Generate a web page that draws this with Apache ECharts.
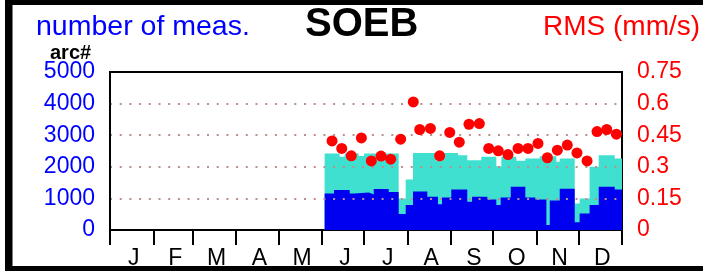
<!DOCTYPE html>
<html><head><meta charset="utf-8">
<script src="https://cdn.jsdelivr.net/npm/echarts@6/dist/echarts.min.js"></script>
<style>html,body{margin:0;padding:0;background:#fff;overflow:hidden}#c{width:703px;height:271px}</style>
</head><body><div id="c"></div>
<script>
// ---- data ----
const monthLabels = ['J','F','M','A','M','J','J','A','S','O','N','D'];
const monthStartDays = [0,31,59,90,120,151,181,212,243,273,304,334,365];
const leftTicks = [0,1000,2000,3000,4000,5000];
const rightTicks = [0,0.15,0.3,0.45,0.6,0.75];

// total number of measurements (turquoise), step starts in day-of-year
const totalStartDays = [153.0,163.7,167.3,177.3,181.1,205.8,210.8,216.0,232.5,237.0,248.1,254.7,264.7,275.4,279.0,289.7,296.1,306.3,318.2,320.6,331.3,334.8,341.9,348.4,359.8];
const totalCounts    = [2420, 2316, 2420, 2340, 2420, 1000, 1600, 2440, 2190, 2440, 2368, 2211, 2316, 2021, 2316, 2190, 2263, 2337, 2158, 2263,  842, 1000, 2000, 2368, 2263];

// arc measurements (blue)
const arcStartDays = [153.0,159.7,170.9,174.0,184.6,188.0,198.7,205.8,210.8,216.0,226.2,233.8,236.7,243.3,254.7,258.1,269.0,275.4,278.5,285.7,296.1,303.2,311.1,313.5,320.6,331.3,334.8,341.9,348.4,359.8];
const arcCounts    = [1158, 1263, 1158, 1189, 1126, 1295, 1200,  505,  790, 1221, 1053,  811, 1032, 1284,  895, 1053,  968,  790, 1032, 1368, 1032,  968,  158,  937, 1305,  242,  526,  790, 1368, 1284];

// RMS (mm/s), red dots
const rmsDays   = [158.3,165.2,172.0,179.2,186.3,193.2,200.1,207.2,216.2,220.8,228.4,235.0,242.2,249.0,255.9,263.3,270.0,276.8,283.7,290.9,298.0,305.1,311.8,318.9,326.0,332.9,340.1,347.2,354.1,361.0];
const rmsValues = [0.423,0.387,0.352,0.437,0.328,0.351,0.336,0.431,0.608,0.477,0.482,0.352,0.463,0.417,0.502,0.505,0.387,0.376,0.358,0.387,0.387,0.411,0.343,0.379,0.403,0.366,0.328,0.467,0.477,0.455];

const yearEnd = 365;

// ---- build ----
function stepData(days, vals){
  const d = days.map((x,i)=>[x, vals[i]]);
  d.push([yearEnd, vals[vals.length-1]]);
  return d;
}
const monthLabelDays = monthLabels.map((m,i)=> (monthStartDays[i]+monthStartDays[i+1])/2 + 1.5);
const FONT = 'Liberation Sans, Arial, Helvetica, sans-serif';

const chart = echarts.init(document.getElementById('c'), null, {renderer:'canvas'});
chart.setOption({
  animation:false,
  backgroundColor:'#fff',
  grid:{left:110, right:81, top:72, bottom:41, show:true, borderColor:'#000', borderWidth:2, containLabel:false},
  xAxis:{
    type:'value', min:0, max:yearEnd,
    axisLine:{show:true, lineStyle:{color:'#000', width:2}},
    axisTick:{show:true, customValues:monthStartDays, length:15, lineStyle:{color:'#000', width:2}},
    axisLabel:{show:true, customValues:monthLabelDays, color:'#000', fontSize:23, fontFamily:FONT, margin:17,
      formatter:(v)=>{ for(let i=0;i<monthLabelDays.length;i++){ if(Math.abs(monthLabelDays[i]-v)<0.5) return monthLabels[i]; } return ''; }},
    splitLine:{show:false}
  },
  yAxis:[
    {type:'value', min:leftTicks[0], max:leftTicks[leftTicks.length-1], interval:1000, position:'left', z:4,
     axisLine:{show:true, lineStyle:{color:'#000', width:2}},
     axisTick:{show:false},
     axisLabel:{color:'#0000ff', fontSize:23, fontFamily:FONT, margin:15, formatter:(v)=>String(v)},
     splitLine:{show:true, showMinLine:false, showMaxLine:false, lineStyle:{color:'#bc8f8f', width:2, type:[2,7.7]}}},
    {type:'value', min:rightTicks[0], max:rightTicks[rightTicks.length-1], interval:0.15, position:'right',
     axisLine:{show:true, lineStyle:{color:'#000', width:2}},
     axisTick:{show:false},
     axisLabel:{color:'#ff0000', fontSize:23, fontFamily:FONT, margin:15, formatter:(v)=>String(+v.toFixed(2))},
     splitLine:{show:false}}
  ],
  series:[
    {type:'line', name:'total', step:'end', data:stepData(totalStartDays,totalCounts), symbol:'none', z:1,
     lineStyle:{width:0, color:'#40e0d0'}, areaStyle:{color:'#40e0d0', opacity:1}},
    {type:'line', name:'arc', step:'end', data:stepData(arcStartDays,arcCounts), symbol:'none', z:1,
     lineStyle:{width:0, color:'#0000f0'}, areaStyle:{color:'#0000f0', opacity:1}},
    {type:'scatter', name:'rms', yAxisIndex:1, data:rmsDays.map((d,i)=>[d,rmsValues[i]]), symbol:'circle', symbolSize:11, z:6,
     itemStyle:{color:'#ff0000', opacity:1}}
  ],
  graphic:[
    {type:'rect', shape:{x:5,y:0,width:698,height:5}, style:{fill:'#000'}},
    {type:'rect', shape:{x:5,y:0,width:7.5,height:271}, style:{fill:'#000'}},
    {type:'rect', shape:{x:5,y:266,width:698,height:5}, style:{fill:'#000'}},
    {type:'text', x:36, y:27, style:{text:'number of meas.', fill:'#0000ff', fontSize:28.5, fontFamily:FONT, verticalAlign:'middle'}},
    {type:'text', x:305, y:25, style:{text:'SOEB', fill:'#000', fontSize:40, fontWeight:'bold', fontFamily:FONT, verticalAlign:'middle'}},
    {type:'text', x:543, y:27, style:{text:'RMS (mm/s)', fill:'#ff0000', fontSize:28, fontFamily:FONT, verticalAlign:'middle'}},
    {type:'text', x:50, y:53, style:{text:'arc#', fill:'#000', fontSize:20, fontWeight:'bold', fontFamily:FONT, verticalAlign:'middle'}}
  ]
});
</script></body></html>
